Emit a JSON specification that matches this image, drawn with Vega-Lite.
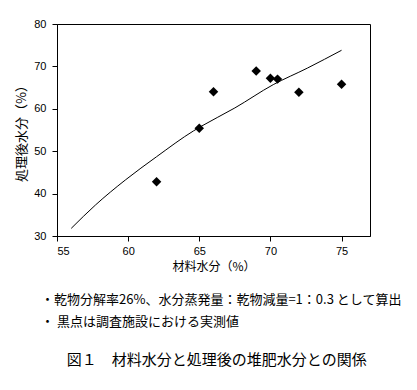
{
  "$schema": "https://vega.github.io/schema/vega-lite/v6.json",
  "autosize": {"type": "pad"},
  "padding": {"left": 15, "top": 17, "right": 5, "bottom": 5},
  "background": "white",
  "datasets": {
    "points": [
      {"material": 62, "after": 42.8},
      {"material": 65, "after": 55.4},
      {"material": 66, "after": 64.0},
      {"material": 69, "after": 68.9},
      {"material": 70, "after": 67.2},
      {"material": 70.5, "after": 67.0},
      {"material": 72, "after": 63.9},
      {"material": 75, "after": 65.8}
    ],
    "curve": [
      {"material": 56.0, "after": 31.8},
      {"material": 57.7, "after": 37.3},
      {"material": 59.8, "after": 43.2},
      {"material": 62.0, "after": 48.7},
      {"material": 64.6, "after": 54.8},
      {"material": 65.1, "after": 55.8},
      {"material": 67.5, "after": 60.2},
      {"material": 70.2, "after": 65.7},
      {"material": 72.6, "after": 69.6},
      {"material": 75.0, "after": 73.8}
    ]
  },
  "title": {
    "text": "図１　材料水分と処理後の堆肥水分との関係",
    "orient": "bottom",
    "anchor": "middle",
    "font": "Noto Sans CJK JP",
    "fontSize": 15,
    "fontWeight": "normal",
    "color": "black",
    "dx": 8,
    "offset": 23
  },
  "config": {
    "view": {"stroke": "black", "strokeWidth": 1},
    "axis": {
      "grid": false,
      "domainColor": "black",
      "tickColor": "black",
      "tickSize": 5,
      "labelFont": "Liberation Sans",
      "labelFontSize": 11,
      "labelColor": "black",
      "titleFont": "Noto Sans CJK JP",
      "titleFontWeight": "normal",
      "titleColor": "black"
    }
  },
  "vconcat": [
    {
      "width": 313,
      "height": 212,
      "title": {
        "text": ["・乾物分解率26%、水分蒸発量：乾物減量=1：0.3 として算出", "・ 黒点は調査施設における実測値"],
        "orient": "bottom",
        "anchor": "start",
        "frame": "group",
        "dx": -16,
        "offset": 22,
        "font": "Noto Sans CJK JP",
        "fontSize": 13,
        "fontWeight": "normal",
        "lineHeight": 22,
        "color": "black"
      },
      "layer": [
        {
          "data": {"name": "curve"},
          "mark": {"type": "line", "color": "black", "strokeWidth": 1, "interpolate": "monotone"},
          "encoding": {
            "x": {"field": "material", "type": "quantitative",
                  "scale": {"domain": [55, 77], "nice": false, "zero": false},
                  "axis": {"values": [55, 60, 65, 70, 75], "title": "材料水分（%）", "titleFontSize": 12, "labelPadding": 4, "titlePadding": 5}},
            "y": {"field": "after", "type": "quantitative",
                  "scale": {"domain": [30, 80], "nice": false, "zero": false},
                  "axis": {"values": [30, 40, 50, 60, 70, 80], "title": "処理後水分（%）", "titleFontSize": 13, "labelPadding": 6, "titlePadding": 5}}
          }
        },
        {
          "data": {"name": "points"},
          "mark": {"type": "point", "shape": "diamond", "filled": true, "color": "black", "opacity": 1, "size": 90},
          "encoding": {
            "x": {"field": "material", "type": "quantitative"},
            "y": {"field": "after", "type": "quantitative"}
          }
        }
      ]
    }
  ]
}
